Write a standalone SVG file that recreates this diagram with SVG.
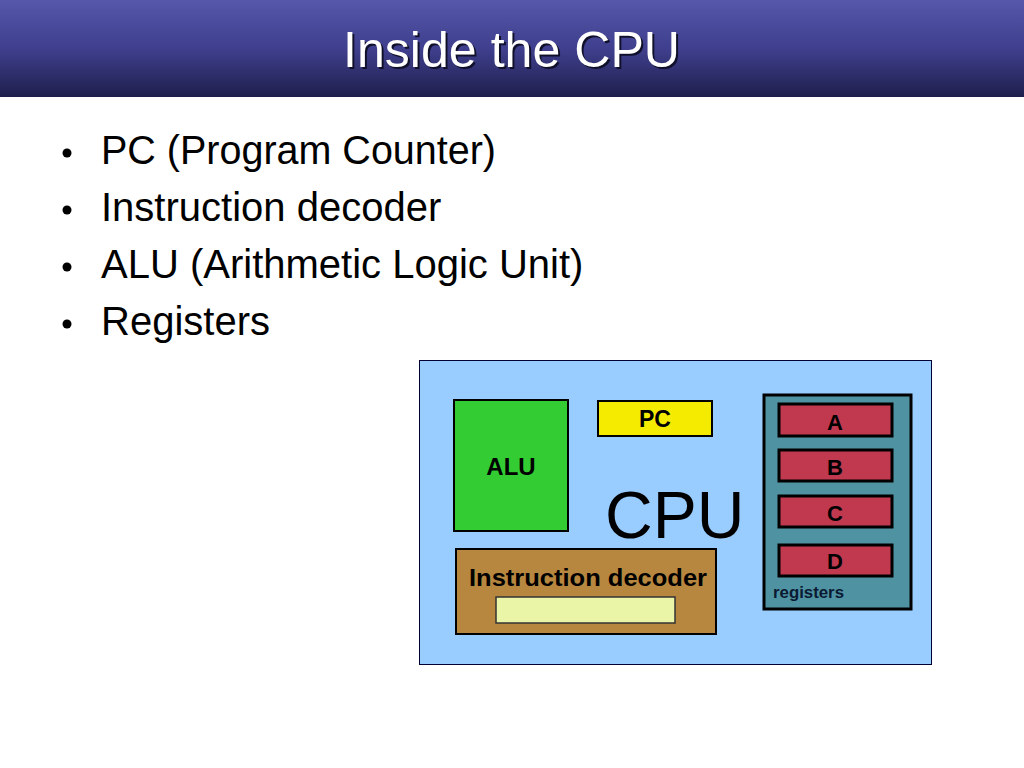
<svg xmlns="http://www.w3.org/2000/svg" width="1024" height="768" viewBox="0 0 1024 768">
<defs>
<linearGradient id="titleGrad" x1="0" y1="0" x2="0" y2="1">
<stop offset="0" stop-color="#5757AB"/>
<stop offset="0.5" stop-color="#3F3F8E"/>
<stop offset="1" stop-color="#1F1F4D"/>
</linearGradient>
</defs>
<style>
.title{font-family:"Liberation Sans",Arial,sans-serif;font-size:50px;fill:#FFFFFF}
.shadow{font-family:"Liberation Sans",Arial,sans-serif;font-size:50px;fill:#10102A}
.bullet{font-family:"Liberation Sans",Arial,sans-serif;font-size:40px;fill:#000000}
.lbl{font-family:"Liberation Sans",Arial,sans-serif;font-weight:bold;fill:#000000;text-anchor:middle}
.box{stroke:#000000;stroke-width:2}
.reg{fill:#C0394F;stroke:#000000;stroke-width:3}
</style>
<rect width="1024" height="768" fill="#FFFFFF"/>
<g id="title">
<rect x="0" y="0" width="1024" height="97" fill="url(#titleGrad)"/>
<text class="shadow" x="345" y="69" textLength="337" lengthAdjust="spacingAndGlyphs">Inside the CPU</text>
<text class="title" x="343" y="67" textLength="337" lengthAdjust="spacingAndGlyphs">Inside the CPU</text>
</g>
<g id="bullets">
<circle cx="67" cy="153" r="4.5" fill="#000"/>
<text class="bullet" x="101" y="164" textLength="395" lengthAdjust="spacingAndGlyphs">PC (Program Counter)</text>
<circle cx="67" cy="210" r="4.5" fill="#000"/>
<text class="bullet" x="101" y="221">Instruction decoder</text>
<circle cx="67" cy="267" r="4.5" fill="#000"/>
<text class="bullet" x="101" y="278">ALU (Arithmetic Logic Unit)</text>
<circle cx="67" cy="324" r="4.5" fill="#000"/>
<text class="bullet" x="101" y="335">Registers</text>
</g>
<g id="cpu">
<rect x="419.5" y="360.5" width="512" height="304" fill="#99CCFF" stroke="#000033" stroke-width="1"/>
<text x="605" y="538" font-family="Liberation Sans,Arial,sans-serif" font-size="66" fill="#000">CPU</text>
</g>
<g id="alu">
<rect class="box" x="454" y="400" width="114" height="131" fill="#33CC33"/>
<text class="lbl" x="511" y="475" font-size="24">ALU</text>
</g>
<g id="pc">
<rect class="box" x="598" y="401" width="114" height="35" fill="#F5EB00"/>
<text class="lbl" x="655" y="427" font-size="23">PC</text>
</g>
<g id="decoder">
<rect class="box" x="456" y="549" width="260" height="85" fill="#B8873F"/>
<text class="lbl" x="588" y="586" font-size="24" textLength="238" lengthAdjust="spacingAndGlyphs">Instruction decoder</text>
<rect x="496" y="597" width="179" height="26" fill="#EBF5A8" stroke="#333" stroke-width="1.5"/>
</g>
<g id="registers">
<rect x="764" y="395" width="147" height="214" fill="#4F93A3" stroke="#000" stroke-width="3"/>
<g id="regA"><rect class="reg" x="779" y="404" width="113" height="32"/><text class="lbl" x="835" y="430" font-size="22">A</text></g>
<g id="regB"><rect class="reg" x="779" y="450" width="113" height="31"/><text class="lbl" x="835" y="475" font-size="22">B</text></g>
<g id="regC"><rect class="reg" x="779" y="496" width="113" height="31"/><text class="lbl" x="835" y="521" font-size="22">C</text></g>
<g id="regD"><rect class="reg" x="779" y="545" width="113" height="31"/><text class="lbl" x="835" y="569" font-size="22">D</text></g>
<text x="773" y="598" font-family="Liberation Sans,Arial,sans-serif" font-weight="bold" font-size="16" fill="#0A1A33" textLength="71" lengthAdjust="spacingAndGlyphs">registers</text>
</g>
<g id="connectors"/>
</svg>
